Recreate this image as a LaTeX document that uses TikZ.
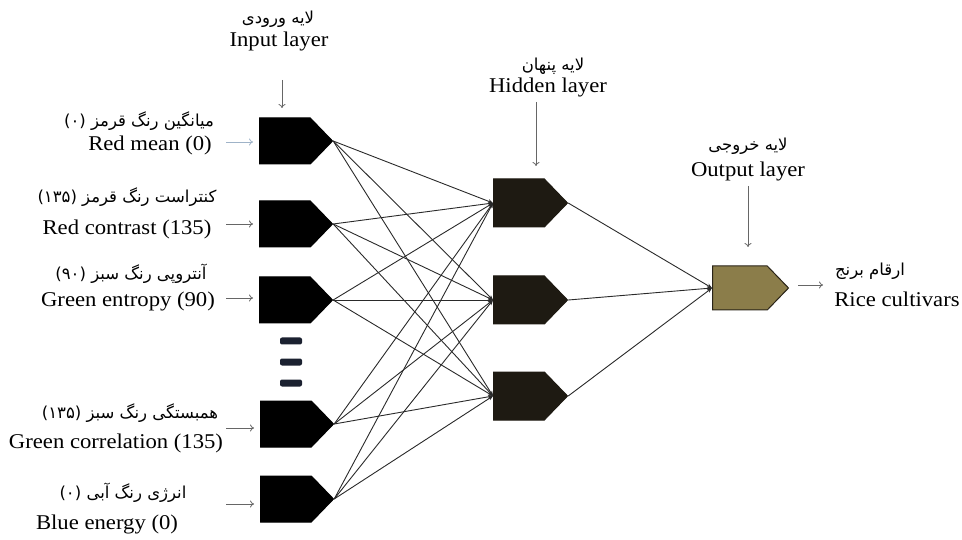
\documentclass[tikz,border=0pt]{standalone}
\usepackage{fontspec}
\setmainfont{Liberation Serif}[FakeStretch=1.08]
\newfontfamily\farsi[Script=Arabic]{DejaVu Sans}
\TeXXeTstate=1
\usetikzlibrary{shapes.symbols,arrows.meta}

\definecolor{hidfill}{HTML}{1E1A12}
\definecolor{outfill}{HTML}{8B7D4A}
\definecolor{outdraw}{HTML}{2A2418}
\definecolor{linkgray}{HTML}{2A2A2A}
\definecolor{arrgray}{HTML}{666666}
\definecolor{bluegray}{HTML}{9FB3C8}
\definecolor{dotfill}{HTML}{1B2130}

\tikzset{
  neuron/.style={signal, signal to=east, signal pointer angle=92, draw=black,
    line width=1pt, inner sep=0pt, minimum height=46pt, minimum width=73pt, anchor=west},
  inneuron/.style={neuron, fill=black},
  hidneuron/.style={neuron, fill=hidfill, draw=hidfill, minimum height=48pt, minimum width=74pt},
  outneuron/.style={neuron, fill=outfill, draw=outdraw, minimum height=44pt, minimum width=76pt},
  link/.style={draw=linkgray, line width=0.9pt, -{Stealth[length=5pt,width=4pt]}},
  feed/.style={draw=arrgray, line width=0.8pt, -{To[length=4pt,width=7pt]}},
  en/.style={font=\fontsize{21}{24}\selectfont, inner sep=0pt},
  fa/.style={font=\fontsize{16.5}{20}\farsi, inner sep=0pt},
}

\begin{document}
\begin{tikzpicture}[x=1pt,y=-1pt]
\useasboundingbox (0,0) rectangle (962,540);
% input layer
\node[inneuron] (i1) at (259,141) {};
\node[inneuron] (i2) at (259,224) {};
\node[inneuron] (i3) at (259,300) {};
\node[inneuron] (i4) at (260,424) {};
\node[inneuron] (i5) at (260,499) {};
\foreach \y in {341,362,383}
  \fill[dotfill, rounded corners=2pt] (280,\y-3.5) rectangle (302,\y+3.5);
% hidden layer
\node[hidneuron] (h1) at (493,203) {};
\node[hidneuron] (h2) at (493,300) {};
\node[hidneuron] (h3) at (493,396) {};
% output layer
\node[outneuron] (o) at (712,288) {};
\foreach \i in {1,...,5}
  \foreach \j in {1,2,3}
    \draw[link] (i\i.east) -- (h\j.west);
\foreach \j in {1,2,3}
  \draw[link] (h\j.east) -- (o.west);

% input labels
\node[fa] (fa1) at (139,121) {\beginR میانگین رنگ قرمز \beginL(۰)\endL\endR};
\node[en] (en1) at (150,145) {Red mean (0)};
\node[fa] (fa2) at (127,197) {\beginR کنتراست رنگ قرمز \beginL(۱۳۵)\endL\endR};
\node[en] (en2) at (127,229) {Red contrast (135)};
\node[fa] (fa3) at (131,274) {\beginR آنتروپی رنگ سبز \beginL(۹۰)\endL\endR};
\node[en] (en3) at (128,301) {Green entropy (90)};
\node[fa] (fa4) at (130,413) {\beginR همبستگی رنگ سبز \beginL(۱۳۵)\endL\endR};
\node[en] (en4) at (116,443) {Green correlation (135)};
\node[fa] (fa5) at (123,493) {\beginR انرژی رنگ آبی \beginL(۰)\endL\endR};
\node[en] (en5) at (107,524) {Blue energy (0)};
\coordinate (a1) at (226,142);
\coordinate (a2) at (226,224);
\coordinate (a3) at (226,298);
\coordinate (a4) at (226,428);
\coordinate (a5) at (226,504);
\draw[feed, draw=bluegray] (a1) -- (a1 -| i1.west) [shorten >=6pt];
\foreach \k in {2,...,5}
  \draw[feed, shorten >=6pt] (a\k) -- (a\k -| i\k.west);

% layer labels
\node[fa] (falin) at (278,19) {\beginR لایه ورودی\endR};
\node[en] (enlin) at (279,41) {Input layer};
\node[fa] (falhid) at (553,66) {\beginR لایه پنهان\endR};
\node[en] (enlhid) at (548,87) {Hidden layer};
\node[fa] (falout) at (748,146) {\beginR لایه خروجی\endR};
\node[en] (enlout) at (748,171) {Output layer};
\node[fa] (farice) at (870,271) {\beginR ارقام برنج\endR};
\node[en] (enrice) at (897,299) {Rice cultivars};
\coordinate (lin) at (282,80);
\coordinate (lhid) at (536,102);
\coordinate (lout) at (748,186);
\coordinate (rice) at (823,285);
\draw[feed] (lin) -- (282,108);
\draw[feed] (lhid) -- (536,166);
\draw[feed] (lout) -- (748,247);
\draw[feed, shorten <=9pt] (o.east |- rice) -- (rice);
\end{tikzpicture}
\end{document}
